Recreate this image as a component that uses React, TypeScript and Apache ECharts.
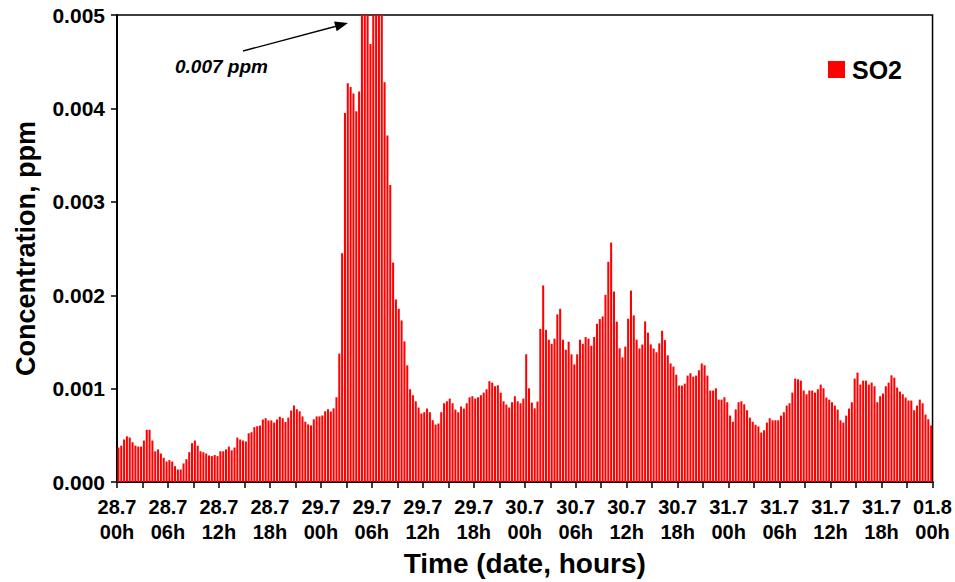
import React, { useEffect, useRef } from "react";
import * as echarts from "echarts";

// 20-minute SO2 readings (ppm), 72 per day
const DAYS = ["28.7", "29.7", "30.7", "31.7"];

const so2Day28 = [
  0.00037, 0.00039, 0.000456, 0.00049, 0.000477, 0.000427, 0.00039, 0.00038, 0.00038,
  0.000445, 0.00056, 0.00056, 0.000445, 0.00033, 0.00035, 0.000306, 0.00026, 0.00022,
  0.000235, 0.00022, 0.00017, 0.000135, 0.000135, 0.0002, 0.000245, 0.00032, 0.000417,
  0.000445, 0.00039, 0.00033, 0.00032, 0.000306, 0.000285, 0.000278, 0.00029, 0.000278,
  0.00033, 0.00033, 0.00035, 0.00038, 0.00034, 0.00037, 0.000477, 0.000456, 0.000445,
  0.000435, 0.000523, 0.000534, 0.000588, 0.000598, 0.000605, 0.00067, 0.000684, 0.00066,
  0.00066, 0.000637, 0.00067, 0.0007, 0.000684, 0.000644, 0.00069, 0.000766, 0.00082,
  0.00078, 0.000758, 0.000703, 0.000646, 0.000618, 0.000607, 0.000672, 0.000703, 0.000703,
];

const so2Day29 = [
  0.000713, 0.000758, 0.00078, 0.000755, 0.00079, 0.000908, 0.001375, 0.00245, 0.00395,
  0.00427, 0.00423, 0.00416, 0.00397, 0.00418, 0.0055, 0.0062, 0.0054, 0.00469,
  0.007, 0.0064, 0.0058, 0.0052, 0.00428, 0.00371, 0.00318, 0.00235, 0.001955,
  0.001855, 0.00173, 0.001506, 0.00125, 0.000994, 0.00093, 0.000865, 0.000798, 0.000734,
  0.000748, 0.000787, 0.000748, 0.000662, 0.000616, 0.000627, 0.000748, 0.000844, 0.000865,
  0.000894, 0.000844, 0.000776, 0.000748, 0.000809, 0.000787, 0.000844, 0.000908, 0.000919,
  0.000894, 0.000908, 0.00093, 0.000958, 0.000994, 0.00108, 0.001065, 0.001026, 0.001036,
  0.000958, 0.000865, 0.00083, 0.000798, 0.000855, 0.000919, 0.000865, 0.000844, 0.000894,
];

const so2Day30 = [
  0.001368, 0.001004, 0.000851, 0.00079, 0.000862, 0.00164, 0.002105, 0.00163, 0.001524,
  0.00148, 0.001535, 0.001795, 0.001855, 0.001524, 0.001417, 0.001503, 0.001368, 0.00126,
  0.001368, 0.001524, 0.00148, 0.001553, 0.001535, 0.00146, 0.001553, 0.001695, 0.001745,
  0.001773, 0.002005, 0.002358, 0.002564, 0.00204, 0.001717, 0.001432, 0.001335, 0.00145,
  0.001749, 0.00205, 0.001784, 0.001525, 0.00143, 0.001472, 0.00172, 0.0016, 0.001474,
  0.00143, 0.00139, 0.001485, 0.00162, 0.00152, 0.001357, 0.00127, 0.001236, 0.00115,
  0.001033, 0.001033, 0.001054, 0.00114, 0.001165, 0.001129, 0.00114, 0.001197, 0.00127,
  0.00125, 0.00114, 0.00098, 0.00098, 0.001004, 0.000883, 0.000883, 0.000908, 0.000855,
];

const so2Day31 = [
  0.000712, 0.000646, 0.000778, 0.000855, 0.000865, 0.000833, 0.000769, 0.00069, 0.000646,
  0.000614, 0.000595, 0.00053, 0.000555, 0.000637, 0.000684, 0.000662, 0.000662, 0.000662,
  0.000712, 0.000748, 0.000819, 0.000844, 0.000958, 0.001108, 0.0011, 0.001086, 0.00098,
  0.00094, 0.00098, 0.00098, 0.000958, 0.000994, 0.001044, 0.001004, 0.000905, 0.000883,
  0.000855, 0.000819, 0.000776, 0.000662, 0.000637, 0.000712, 0.000787, 0.000855, 0.001108,
  0.001172, 0.001044, 0.001086, 0.001086, 0.001044, 0.001065, 0.001026, 0.000855, 0.000919,
  0.000948, 0.001026, 0.001065, 0.001143, 0.001118, 0.001012, 0.000969, 0.00094, 0.000905,
  0.000873, 0.000873, 0.000769, 0.000819, 0.000883, 0.000844, 0.000723, 0.000673, 0.000606,
];

const xTickLabels = [
  "28.7\n00h", "28.7\n06h", "28.7\n12h", "28.7\n18h",
  "29.7\n00h", "29.7\n06h", "29.7\n12h", "29.7\n18h",
  "30.7\n00h", "30.7\n06h", "30.7\n12h", "30.7\n18h",
  "31.7\n00h", "31.7\n06h", "31.7\n12h", "31.7\n18h",
  "01.8\n00h",
];

const so2 = [...so2Day28, ...so2Day29, ...so2Day30, ...so2Day31];

const categories: string[] = [];
DAYS.forEach((d) => {
  for (let k = 0; k < 72; k++) {
    const h = String(Math.floor(k / 3)).padStart(2, "0");
    const m = String((k % 3) * 20).padStart(2, "0");
    categories.push(`${d} ${h}:${m}`);
  }
});

const FONT = "'Liberation Sans', Arial, Helvetica, sans-serif";

export default function App() {
  const ref = useRef<HTMLDivElement>(null);

  useEffect(() => {
    if (!ref.current) return;
    const chart = echarts.init(ref.current, undefined, { renderer: "svg" });
    const option: any = {
      animation: false,
      backgroundColor: "#ffffff",
      grid: {
        left: 117,
        right: 18,
        top: 15,
        bottom: 99,
        show: true,
        borderColor: "#000",
        borderWidth: 1.5,
        backgroundColor: "transparent",
      },
      legend: {
        show: true,
        left: 823,
        top: 52,
        itemWidth: 17,
        itemHeight: 17,
        icon: "rect",
        data: ["SO2"],
        textStyle: { fontFamily: FONT, fontWeight: "bold", fontSize: 25, color: "#000", padding: [0, 0, 0, 2] },
      },
      xAxis: [
        { type: "category", data: categories, show: false, boundaryGap: true, gridIndex: 0 },
        {
          type: "value",
          gridIndex: 0,
          position: "bottom",
          min: 0,
          max: 96,
          interval: 3,
          axisLine: { show: true, onZero: false, lineStyle: { color: "#000", width: 2 } },
          axisTick: { show: true, length: 6, inside: false, lineStyle: { color: "#000", width: 1.5 } },
          splitLine: { show: false },
          axisLabel: {
            show: true,
            showMinLabel: true,
            showMaxLabel: true,
            formatter: (v: number) => (v % 6 === 0 ? xTickLabels[v / 6] : ""),
            fontFamily: FONT,
            fontWeight: "bold",
            fontSize: 20,
            lineHeight: 25,
            margin: 12,
            color: "#000",
          },
          name: "Time (date, hours)",
          nameLocation: "middle",
          nameGap: 63,
          nameTextStyle: { fontFamily: FONT, fontWeight: "bold", fontSize: 28, color: "#000" },
        },
      ],
      yAxis: {
        type: "value",
        min: 0,
        max: 0.005,
        interval: 0.001,
        axisLine: { show: true, lineStyle: { color: "#000", width: 2 } },
        axisTick: { show: true, length: 6, inside: false, lineStyle: { color: "#000", width: 1.5 } },
        splitLine: { show: false },
        axisLabel: {
          formatter: (v: number) => v.toFixed(3),
          fontFamily: FONT,
          fontWeight: "bold",
          fontSize: 21,
          margin: 12,
          color: "#000",
        },
        name: "Concentration, ppm",
        nameLocation: "middle",
        nameGap: 78,
        nameTextStyle: { fontFamily: FONT, fontWeight: "bold", fontSize: 27, color: "#000" },
      },
      series: [
        {
          type: "bar",
          name: "SO2",
          data: so2,
          xAxisIndex: 0,
          yAxisIndex: 0,
          barCategoryGap: "28%",
          clip: true,
          itemStyle: { color: "#ff0000" },
        },
      ],
      graphic: [
        {
          type: "line",
          shape: { x1: 243, y1: 51, x2: 337, y2: 26 },
          style: { stroke: "#000", lineWidth: 1.3 },
          z: 100,
        },
        {
          type: "polygon",
          shape: { points: [[348, 23], [336.7, 31.2], [334.1, 21.5]] },
          style: { fill: "#000" },
          z: 100,
        },
        {
          type: "text",
          x: 175,
          y: 66,
          style: {
            text: "0.007 ppm",
            fontFamily: FONT,
            fontWeight: "bold",
            fontStyle: "italic",
            fontSize: 19,
            fill: "#000",
            verticalAlign: "middle",
          },
          z: 100,
        },
      ],
    };
    chart.setOption(option);
    return () => chart.dispose();
  }, []);

  return (
    <div
      ref={ref}
      style={{ position: "absolute", left: 0, top: 0, width: 955, height: 582, background: "#fff" }}
    />
  );
}
